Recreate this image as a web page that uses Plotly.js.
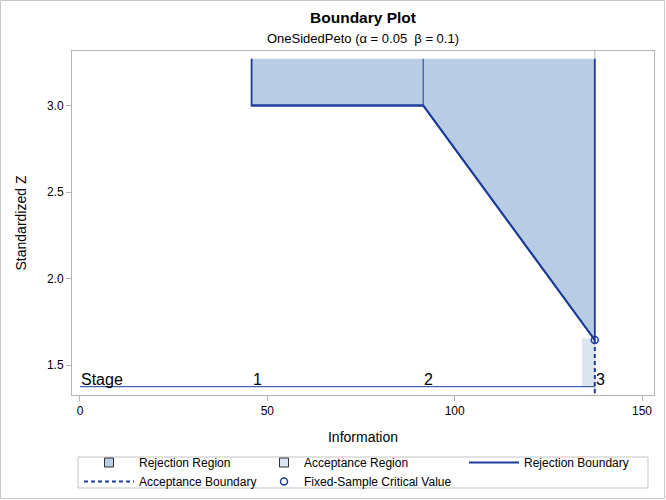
<!DOCTYPE html>
<html>
<head>
<meta charset="utf-8">
<script src="https://cdn.plot.ly/plotly-3.0.1.min.js"></script>
<style>
    html, body { margin: 0; padding: 0; background: #ffffff; }
    #boundaryPlot { width: 666px; height: 500px; }
</style>
</head>
<body>
<div id="boundaryPlot"></div>
<script>
// === ДАННЫЕ ===
const stageLabels = ['1', '2', '3'];
const stageInfo = [45.8, 91.6, 137.4];          // информация на этапах
const rejectBounds = [3.0, 3.0, 1.645];          // граница отклонения
const fixedCritical = 1.645;                     // критическое значение фиксированной выборки
const acceptLeft = 134.0;                        // левый край области принятия
const acceptTop = 1.654;
const regionTop = 3.27;                          // верх области отклонения
const stageLineY = 1.375;
const yBottom = 1.327;

const BLUE = '#1d3c9c';
const FONT = 'Liberation Sans, Arial, sans-serif';

// === ПОСТРОЕНИЕ ГРАФИКА ===
function buildBoundaryPlot() {
    const last = stageInfo.length - 1;

    // Область принятия (узкая полоса у последнего этапа)
    const acceptRegion = {
        x: [acceptLeft, stageInfo[last], stageInfo[last], acceptLeft],
        y: [stageLineY, stageLineY, acceptTop, acceptTop],
        type: 'scatter', mode: 'lines', fill: 'toself',
        fillcolor: '#dce5f1', line: { width: 0 },
        showlegend: false, hoverinfo: 'skip'
    };

    // Область отклонения
    const rejectRegion = {
        x: [stageInfo[0]].concat(stageInfo, [stageInfo[last]]),
        y: [regionTop].concat(rejectBounds, [regionTop]),
        type: 'scatter', mode: 'lines', fill: 'toself',
        fillcolor: '#b8cce4', line: { color: BLUE, width: 1.8 },
        showlegend: false, hoverinfo: 'skip'
    };

    // Вертикали на промежуточных этапах
    const innerEdges = stageInfo.slice(1, last).map((s, i) => ({
        x: [s, s], y: [rejectBounds[i + 1], regionTop],
        type: 'scatter', mode: 'lines',
        line: { color: BLUE, width: 1 },
        showlegend: false, hoverinfo: 'skip'
    }));

    // Линия этапов внизу
    const stageLine = {
        x: [0, stageInfo[last]], y: [stageLineY, stageLineY],
        type: 'scatter', mode: 'lines',
        line: { color: BLUE, width: 1 },
        showlegend: false, hoverinfo: 'skip'
    };

    // Граница принятия
    const acceptBoundary = {
        x: [stageInfo[last], stageInfo[last]], y: [fixedCritical, yBottom],
        type: 'scatter', mode: 'lines', name: 'Acceptance Boundary',
        line: { color: BLUE, width: 2, dash: '4px,3px' },
        legend: 'legend', legendrank: 2
    };

    // Граница отклонения
    const rejectBoundary = {
        x: stageInfo, y: rejectBounds,
        type: 'scatter', mode: 'lines', name: 'Rejection Boundary',
        line: { color: BLUE, width: 2 },
        legend: 'legend3'
    };

    // Критическое значение фиксированной выборки
    const criticalPoint = {
        x: [stageInfo[last]], y: [fixedCritical],
        type: 'scatter', mode: 'markers', name: 'Fixed-Sample Critical Value',
        marker: { symbol: 'circle-open', size: 7, color: BLUE, line: { width: 1.5 } },
        legend: 'legend2', legendrank: 2
    };

    // Символы легенды для областей
    const rejectKey = {
        x: [null], y: [null], type: 'scatter', mode: 'markers', name: 'Rejection Region',
        marker: { symbol: 'square', size: 9, color: '#b8cce4', line: { color: '#333333', width: 1 } },
        legend: 'legend', legendrank: 1
    };
    const acceptKey = {
        x: [null], y: [null], type: 'scatter', mode: 'markers', name: 'Acceptance Region',
        marker: { symbol: 'square', size: 9, color: '#dce5f1', line: { color: '#333333', width: 1 } },
        legend: 'legend2', legendrank: 1
    };

    const traces = [acceptRegion, rejectRegion].concat(innerEdges,
        [stageLine, rejectBoundary, acceptBoundary, criticalPoint, rejectKey, acceptKey]);

    // Подписи этапов
    const annotations = [{
        x: 0, y: stageLineY, xref: 'x', yref: 'y', text: 'Stage',
        showarrow: false, xanchor: 'left', yanchor: 'bottom', yshift: -3, xshift: -1,
        font: { family: FONT, size: 16, color: '#000000' }
    }].concat(stageInfo.map((s, i) => ({
        x: s, y: stageLineY, xref: 'x', yref: 'y', text: stageLabels[i],
        showarrow: false, xanchor: 'left', yanchor: 'bottom', yshift: -3, xshift: -1,
        font: { family: FONT, size: 16, color: '#000000' }
    })));

    const legendBase = {
        orientation: 'v', xanchor: 'left', yanchor: 'top', y: (395 - 448) / 344,
        bgcolor: 'rgba(0,0,0,0)', borderwidth: 0, traceorder: 'normal',
        font: { family: FONT, size: 12, color: '#000000' }
    };

    const layout = {
        width: 666, height: 500,
        margin: { l: 72, r: 12, t: 51, b: 105, autoexpand: false },
        paper_bgcolor: '#ffffff', plot_bgcolor: '#ffffff',
        font: { family: FONT, size: 12, color: '#000000' },
        title: {
            text: '<b>Boundary Plot</b><br><span style="font-size:13px">OneSidedPeto (α = 0.05\u00a0 β = 0.1)</span>',
            font: { family: FONT, size: 15.5, color: '#000000' },
            x: 0.5, xref: 'paper', xanchor: 'center',
            y: 0.955, yref: 'container', yanchor: 'top'
        },
        xaxis: {
            range: [-2.13, 153.2], dtick: 50, tick0: 0,
            showgrid: false, zeroline: false,
            showline: true, mirror: true, linecolor: '#b4b4b4', linewidth: 1,
            ticks: 'outside', ticklen: 5, tickcolor: '#b4b4b4',
            tickfont: { family: FONT, size: 12, color: '#000000' },
            title: { text: 'Information', standoff: 14, font: { family: FONT, size: 14, color: '#000000' } }
        },
        yaxis: {
            range: [yBottom, 3.315], dtick: 0.5, tick0: 1.5, tickformat: '.1f',
            showgrid: false, zeroline: false,
            showline: true, mirror: true, linecolor: '#b4b4b4', linewidth: 1,
            ticks: 'outside', ticklen: 5, tickcolor: '#b4b4b4',
            tickfont: { family: FONT, size: 12, color: '#000000' },
            title: { text: 'Standardized Z', standoff: 17, font: { family: FONT, size: 14, color: '#000000' } }
        },
        showlegend: true,
        legend: Object.assign({}, legendBase, { x: (79 - 72) / 582, itemwidth: 50 }),
        legend2: Object.assign({}, legendBase, { x: (264 - 72) / 582, itemwidth: 30 }),
        legend3: Object.assign({}, legendBase, { x: (464 - 72) / 582, itemwidth: 50 }),
        annotations: annotations,
        shapes: [
            // опорная линия на последнем этапе
            {
                type: 'line', xref: 'x', yref: 'paper',
                x0: stageInfo[last], x1: stageInfo[last], y0: 0, y1: 1,
                line: { color: '#b4b4b4', width: 1 }, layer: 'below'
            },
            // рамка легенды
            {
                type: 'rect', xref: 'paper', yref: 'paper',
                x0: (78 - 72) / 582, x1: (648 - 72) / 582,
                y0: (395 - 488) / 344, y1: (395 - 457) / 344,
                line: { color: '#c4c4c4', width: 1 }
            },
            // внешняя рамка
            {
                type: 'rect', xref: 'paper', yref: 'paper',
                x0: (0.5 - 72) / 582, x1: (664.5 - 72) / 582,
                y0: (395 - 498.5) / 344, y1: (395 - 0.5) / 344,
                line: { color: '#c8c8c8', width: 1 }
            }
        ]
    };

    Plotly.newPlot('boundaryPlot', traces, layout, { displayModeBar: false, staticPlot: true });
}

document.addEventListener('DOMContentLoaded', buildBoundaryPlot);
</script>
</body>
</html>
